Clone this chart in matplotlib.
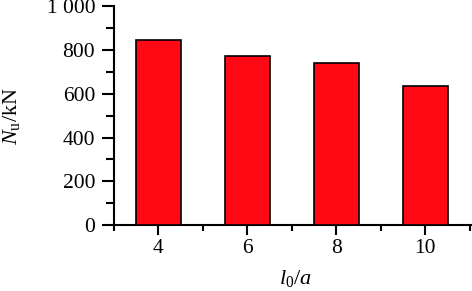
import matplotlib
matplotlib.use("Agg")
import matplotlib.pyplot as plt
from matplotlib.ticker import MultipleLocator, FixedLocator

ratios = [4, 6, 8, 10]
loads = [846, 774, 742, 634]
ytick_vals = [0, 200, 400, 600, 800, 1000]
ytick_labels = ["0", "200", "400", "600", "800", "1 000"]
xtick_vals = [4, 6, 8, 10]

plt.rcParams['font.family'] = ['Liberation Serif', 'DejaVu Serif']
plt.rcParams['mathtext.fontset'] = 'custom'
plt.rcParams['mathtext.rm'] = 'Liberation Serif'
plt.rcParams['mathtext.it'] = 'Liberation Serif:italic'

fig = plt.figure(figsize=(4.72, 2.91), dpi=100)
ax = fig.add_axes([0.2415, 0.2268, 0.7585, 0.7517])

ax.bar(ratios, loads, width=1.0, color='#FF0A14', edgecolor='black', linewidth=1.2, zorder=3)

ax.set_xlim(3, 11.05)
ax.set_ylim(0, 1000)
ax.set_yticks(ytick_vals)
ax.set_yticklabels(ytick_labels)
ax.yaxis.set_minor_locator(MultipleLocator(100))
ax.set_xticks(xtick_vals)
ax.set_xticklabels([str(v) for v in xtick_vals])
ax.xaxis.set_minor_locator(FixedLocator([3, 5, 7, 9, 11]))

for s in ['top', 'right']:
    ax.spines[s].set_visible(False)
for s in ['left', 'bottom']:
    ax.spines[s].set_linewidth(1.5)

ax.tick_params(axis='y', which='major', direction='out', length=9, width=1.5, labelsize=15.5, pad=4.5)
ax.tick_params(axis='y', which='minor', direction='out', length=6, width=1.5)
ax.tick_params(axis='x', which='major', direction='out', length=7, width=1.5, labelsize=15.5, pad=3)
ax.tick_params(axis='x', which='minor', direction='out', length=4, width=1.5)

ax.set_ylabel(r'$N_{\mathrm{u}}$/kN', fontsize=16)
ax.set_xlabel(r'$l_{\mathrm{0}}/a$', fontsize=16)
ax.yaxis.set_label_coords(-0.257, 0.5)
ax.xaxis.set_label_coords(0.508, -0.195)

fig.savefig('out.png', dpi=100)
